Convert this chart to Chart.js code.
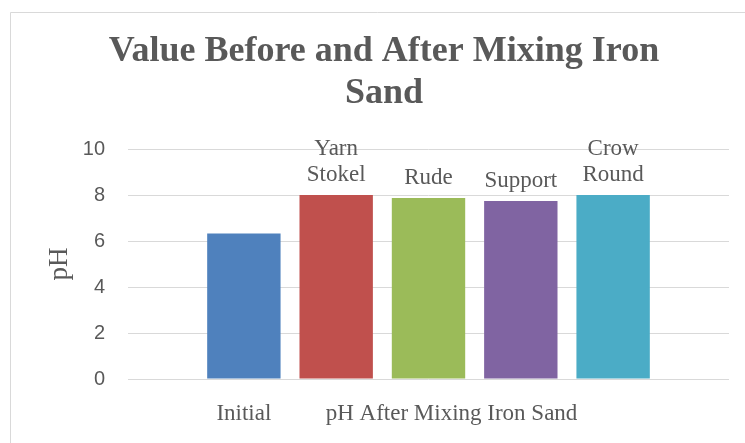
<!DOCTYPE html>
<html>
<head>
<meta charset="utf-8">
<script src="https://cdn.jsdelivr.net/npm/chart.js@4"></script>
<style>
html,body{margin:0;padding:0;background:#fff;overflow:hidden;}
#wrap{position:relative;width:745px;height:443px;}
</style>
</head>
<body>
<div id="wrap"><canvas id="c" width="745" height="443"></canvas></div>
<script>
// ---- data ----
const categories = ["pH After Mixing Iron Sand"];
const seriesNames = ["Initial", "Yarn Stokel", "Rude", "Support", "Crow Round"];
const seriesValues = [6.33, 8.0, 7.87, 7.74, 8.0];
const seriesColors = ["#4f81bd", "#c0504d", "#9bbb59", "#8064a2", "#4bacc6"];
const yTicks = [0, 2, 4, 6, 8, 10];
const titleLines = ["Value Before and After Mixing Iron", "Sand"];
const yTitle = "pH";

const GRAY = "#595959";
const SERIF = "'Liberation Serif', 'Times New Roman', serif";
const SANS = "'Liberation Sans', Arial, sans-serif";

const borderPlugin = {
  id: 'frame',
  beforeDraw(chart) {
    const ctx = chart.ctx;
    ctx.save();
    ctx.fillStyle = '#fff';
    ctx.fillRect(0, 0, chart.width, chart.height);
    ctx.strokeStyle = '#d9d9d9';
    ctx.lineWidth = 1;
    ctx.beginPath();
    ctx.moveTo(10.5, chart.height);
    ctx.lineTo(10.5, 12.5);
    ctx.lineTo(chart.width, 12.5);
    ctx.stroke();
    ctx.restore();
  }
};

const labelPlugin = {
  id: 'seriesLabels',
  afterDatasetsDraw(chart) {
    const ctx = chart.ctx;
    const xs = chart.scales.x;
    ctx.save();
    ctx.fillStyle = GRAY;
    ctx.font = "23px " + SERIF;
    ctx.textAlign = 'center';
    chart.data.datasets.forEach((ds, i) => {
      const meta = chart.getDatasetMeta(i);
      meta.data.forEach((bar) => {
        if (i === 0) {
          // series name shown below the axis under its bar
          ctx.textBaseline = 'middle';
          const y = xs.top + 21 + 13.8;
          ctx.fillText(ds.label, bar.x, y);
        } else {
          const lines = ds.label.split(' ');
          ctx.textBaseline = 'alphabetic';
          const lh = 26;
          let y = bar.y - 14;
          for (let k = lines.length - 1; k >= 0; k--) {
            ctx.fillText(lines[k], bar.x, y);
            y -= lh;
          }
        }
      });
    });
    ctx.restore();
  }
};

new Chart(document.getElementById('c'), {
  type: 'bar',
  data: {
    labels: categories,
    datasets: seriesNames.map((name, i) => ({
      label: name,
      data: [seriesValues[i]],
      backgroundColor: seriesColors[i],
      borderWidth: 0,
      categoryPercentage: 0.768,
      barPercentage: 0.795
    }))
  },
  options: {
    responsive: false,
    animation: false,
    devicePixelRatio: 1,
    layout: { padding: { left: 39, right: 16, top: 0, bottom: 15 } },
    plugins: {
      legend: { display: false },
      tooltip: { enabled: false },
      title: {
        display: true,
        text: titleLines,
        color: GRAY,
        font: { family: SERIF, size: 36, weight: 'bold', lineHeight: 42/36 },
        padding: { top: 31, bottom: 34 }
      }
    },
    scales: {
      x: {
        afterFit(scale) { scale.height = 49; },
        grid: { display: false, drawTicks: false },
        border: { display: false },
        ticks: {
          color: GRAY,
          font: { family: SERIF, size: 23 },
          padding: 21,
          labelOffset: 23
        }
      },
      y: {
        min: yTicks[0],
        max: yTicks[yTicks.length - 1],
        afterBuildTicks(scale) { scale.ticks = yTicks.map(v => ({ value: v })); },
        afterFit(scale) { scale.width = 89; },
        grid: { color: '#d9d9d9', lineWidth: 1, drawTicks: false },
        border: { display: false },
        ticks: {
          color: GRAY,
          font: { family: SANS, size: 20 },
          padding: 23
        },
        title: {
          display: true,
          text: yTitle,
          color: GRAY,
          font: { family: SERIF, size: 27 },
          padding: { top: 5, bottom: 0 }
        }
      }
    }
  },
  plugins: [borderPlugin, labelPlugin]
});
</script>
</body>
</html>
